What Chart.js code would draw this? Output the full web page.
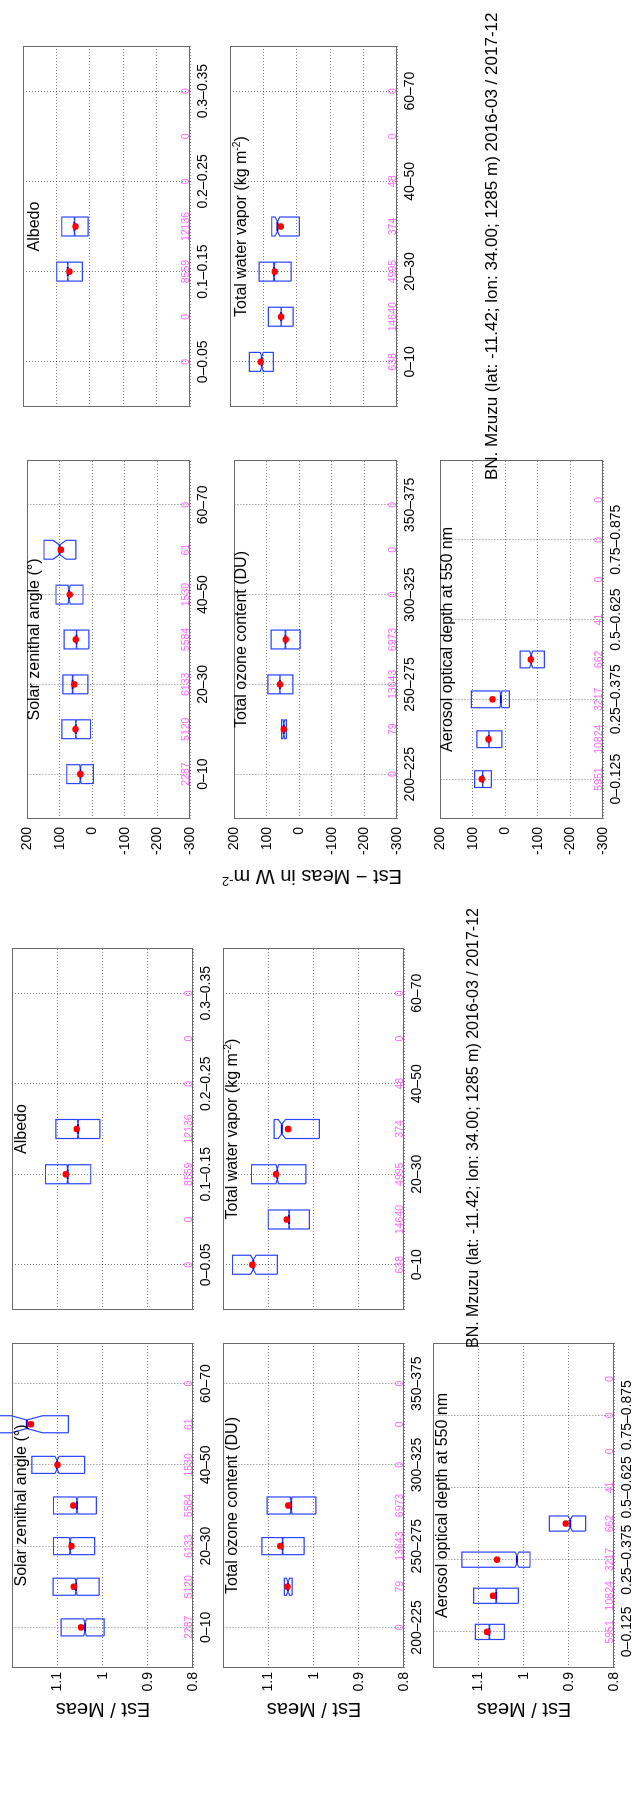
<!DOCTYPE html>
<html>
<head>
<meta charset="utf-8">
<script src="https://cdn.jsdelivr.net/npm/chart.js@4.4.1/dist/chart.umd.min.js"></script>
<style>
  html, body { margin: 0; padding: 0; background: #fff; }
  body { width: 639px; height: 1817px; overflow: hidden; position: relative; }
  #fig {
    position: absolute; left: 0; top: 0; width: 1817px; height: 639px;
    transform-origin: 0 0; transform: translate(0, 1817px) rotate(-90deg);
    font-family: 'Liberation Sans', Arial, sans-serif; color: #000;
  }
  #fig canvas { position: absolute; }
  .ttl { position: absolute; white-space: nowrap; font-size: 16px; line-height: 1; transform: translateX(-50%); }
  .sup { position: absolute; white-space: nowrap; line-height: 1; }
  .ylab { position: absolute; white-space: nowrap; font-size: 20px; line-height: 1; transform: translate(-50%, -50%) rotate(-90deg); }
  sup { font-size: 0.65em; vertical-align: 0.55em; line-height: 0; }
</style>
</head>
<body>
<div id="fig"></div>
<script>
'use strict';

// class labels on the x axes
var szaCats = ['0–10', '10–20', '20–30', '30–40', '40–50', '50–60', '60–70'];
var albCats = ['0–0.05', '0.05–0.1', '0.1–0.15', '0.15–0.2', '0.2–0.25', '0.25–0.3', '0.3–0.35'];
var ozCats = ['200–225', '225–250', '250–275', '275–300', '300–325', '325–350', '350–375'];
var wvCats = ['0–10', '10–20', '20–30', '30–40', '40–50', '50–60', '60–70'];
var aodCats = ['0–0.125', '0.125–0.25', '0.25–0.375', '0.375–0.5', '0.5–0.625', '0.625–0.75', '0.75–0.875', '0.875–1'];

// number of samples in each class (pink numbers)
var szaN = [2287, 5120, 6133, 5584, 1530, 61, 0];
var albN = [0, 0, 8559, 12136, 0, 0, 0];
var ozN = [0, 79, 13643, 6973, 0, 0, 0];
var wvN = [638, 14640, 4995, 374, 48, 0, 0];
var aodN = [5951, 10824, 3217, 662, 41, 0, 0, 0];

// value axes
var ratioTicks = [0.8, 0.9, 1, 1.1, 1.2];
var ratioTickLabels = ['0.8', '0.9', '1', '1.1', ''];
var diffTicks = [-300, -200, -100, 0, 100, 200];
var diffTickLabels = ['-300', '-200', '-100', '0', '100', '200'];

// Est / Meas per class: [q1, median, q3, mean]
var ratioSza = [[0.997, 1.039, 1.092, 1.048], [1.008, 1.059, 1.110, 1.064], [1.018, 1.072, 1.109, 1.069],
  [1.014, 1.057, 1.109, 1.065], [1.040, 1.101, 1.157, 1.100], [1.076, 1.168, 1.250, 1.159], null];
var ratioAlb = [null, null, [1.026, 1.077, 1.126, 1.081], [1.006, 1.054, 1.103, 1.057], null, null, null];
var ratioOz = [null, [1.048, 1.057, 1.065, 1.058], [1.021, 1.069, 1.115, 1.074], [0.995, 1.050, 1.103, 1.056], null, null, null];
var ratioWv = [[1.080, 1.133, 1.179, 1.135], [1.009, 1.054, 1.100, 1.059], [1.017, 1.080, 1.137, 1.083],
  [0.987, 1.070, 1.087, 1.056], null, null, null];
var ratioAod = [[1.043, 1.076, 1.107, 1.081], [1.012, 1.061, 1.111, 1.068], [0.986, 1.015, 1.137, 1.059],
  [0.863, 0.897, 0.943, 0.907], null, null, null, null];

// Est - Meas (W m-2) per class: [q1, median, q3, mean]
var diffSza = [[-3, 37, 79, 37], [6, 51, 94, 52], [14, 61, 91, 56], [11, 49, 87, 51], [29, 72, 112, 70], [51, 101, 149, 97], null];
var diffAlb = [null, null, [22, 66, 99, 61], [5, 46, 84, 43], null, null, null];
var diffOz = [null, [40, 48, 55, 48], [20, 60, 97, 60], [-2, 43, 87, 42], null, null, null];
var diffWv = [[70, 105, 142, 108], [11, 47, 85, 47], [17, 68, 113, 66], [-8, 58, 75, 48], null, null, null];
var diffAod = [[43, 70, 95, 73], [11, 51, 88, 52], [-12, 14, 105, 40], [-120, -79, -45, -78], null, null, null, null];

var siteTitle = 'BN. Mzuzu (lat: -11.42; lon: 34.00; 1285 m) 2016-03 / 2017-12';

var BOX_BLUE = '#2a44ff';
var MED_BLUE = '#0000ee';
var GRID = 'rgba(0,0,0,0.5)';
var FRAME = '#6a6a6a';
var PINK = '#ff66ff';
var ML = 55, MR = 12, MT = 12, MB = 32;
var BOX_HW = 0.21;

Chart.defaults.font.family = "'Liberation Sans', Arial, sans-serif";
Chart.defaults.color = '#000';

var fig = document.getElementById('fig');

var framePlugin = {
  id: 'frame',
  beforeDatasetsDraw: function (chart) {
    var a = chart.chartArea, ctx = chart.ctx;
    ctx.save();
    ctx.strokeStyle = FRAME;
    ctx.lineWidth = 1;
    ctx.strokeRect(Math.round(a.left) + 0.5, Math.round(a.top) + 0.5, Math.round(a.right - a.left) - 1, Math.round(a.bottom - a.top) - 1);
    ctx.restore();
  }
};

var countPlugin = {
  id: 'counts',
  afterDatasetsDraw: function (chart, args, opts) {
    var ctx = chart.ctx, xs = chart.scales.x, a = chart.chartArea;
    ctx.save();
    ctx.fillStyle = PINK;
    ctx.font = "10.5px 'Liberation Sans Narrow', 'Liberation Sans', sans-serif";
    ctx.textAlign = 'center';
    ctx.textBaseline = 'bottom';
    opts.values.forEach(function (v, i) {
      ctx.fillText(String(v), xs.getPixelForValue(i + 1), a.bottom + 1);
    });
    ctx.restore();
  }
};

function boxSets(stats, n) {
  var means = { data: [], showLine: false, pointRadius: 3.3, pointBackgroundColor: '#ff0000', pointBorderWidth: 0, clip: false };
  var sets = [means];
  stats.forEach(function (s, i) {
    if (!s) return;
    var x = i + 1, hw = BOX_HW, nw = BOX_HW / 2;
    var nt = 1.57 * (s[2] - s[0]) / Math.sqrt(n[i]);
    var lo = Math.max(s[0], s[1] - nt), hi = Math.min(s[2], s[1] + nt);
    means.data.push({ x: x, y: s[3] });
    sets.push({
      data: [{ x: x - nw, y: s[1] }, { x: x + nw, y: s[1] }],
      showLine: true, borderColor: MED_BLUE, borderWidth: 2, pointRadius: 0, clip: false
    });
    sets.push({
      data: [
        { x: x - hw, y: s[0] }, { x: x + hw, y: s[0] }, { x: x + hw, y: lo }, { x: x + nw, y: s[1] },
        { x: x + hw, y: hi }, { x: x + hw, y: s[2] }, { x: x - hw, y: s[2] }, { x: x - hw, y: hi },
        { x: x - nw, y: s[1] }, { x: x - hw, y: lo }, { x: x - hw, y: s[0] }
      ],
      showLine: true, borderColor: BOX_BLUE, borderWidth: 1.2, pointRadius: 0, tension: 0, clip: false
    });
  });
  return sets;
}

function addPanel(p) {
  var w = p.w + ML + MR, h = p.h + MT + MB;
  var cv = document.createElement('canvas');
  cv.width = w; cv.height = h;
  cv.style.left = (p.x - ML) + 'px';
  cv.style.top = (p.y - MT) + 'px';
  cv.style.width = w + 'px';
  cv.style.height = h + 'px';
  fig.appendChild(cv);

  var labelled = p.cats.map(function (c, i) { return i + 1; }).filter(function (v) { return v % 2 === 1; });

  new Chart(cv, {
    type: 'scatter',
    data: { datasets: boxSets(p.stats, p.n) },
    options: {
      responsive: false, animation: false, events: [], devicePixelRatio: 1,
      layout: { padding: { top: MT, right: MR, left: 0, bottom: 0 } },
      plugins: { legend: { display: false }, tooltip: { enabled: false }, counts: { values: p.n } },
      scales: {
        x: {
          type: 'linear', min: 0, max: p.cats.length + 1,
          afterFit: function (s) { s.height = MB; },
          afterBuildTicks: function (s) { s.ticks = labelled.map(function (v) { return { value: v }; }); },
          ticks: {
            autoSkip: false, maxRotation: 0, minRotation: 0, padding: 5, font: { size: 14 },
            callback: function (v) { return p.cats[v - 1]; }
          },
          grid: { drawTicks: false, color: GRID, lineWidth: 1 },
          border: { display: false, dash: [1, 2] }
        },
        y: {
          type: 'linear', min: p.ticks[0], max: p.ticks[p.ticks.length - 1],
          afterFit: function (s) { s.width = ML; },
          afterBuildTicks: function (s) { s.ticks = p.ticks.map(function (v) { return { value: v }; }); },
          ticks: {
            display: p.showY, padding: p.pad, font: { size: 14 },
            callback: function (v, i) { return p.tickLabels[i]; }
          },
          grid: { drawTicks: false, color: GRID, lineWidth: 1 },
          border: { display: false, dash: [1, 2] }
        }
      }
    },
    plugins: [framePlugin, countPlugin]
  });

  var t = document.createElement('div');
  t.className = 'ttl';
  t.innerHTML = p.title;
  t.style.left = (p.x + p.w / 2) + 'px';
  t.style.top = (p.y + p.tOff) + 'px';
  fig.appendChild(t);
}

function addText(cls, html, x, y, size) {
  var d = document.createElement('div');
  d.className = cls;
  d.innerHTML = html;
  d.style.left = x + 'px';
  d.style.top = y + 'px';
  if (size) d.style.fontSize = size + 'px';
  fig.appendChild(d);
}

// layout of the two groups (landscape coordinates, before the page rotation)
var groups = [
  { cols: [149, 507], widths: [325, 362], rows: [12, 223, 433], h: 181, ticks: ratioTicks, tickLabels: ratioTickLabels, pad: 4, tOff: 1,
    stats: [ratioSza, ratioAlb, ratioOz, ratioWv, ratioAod] },
  { cols: [998, 1410], widths: [359, 361], rows: [23, 230, 436], h: 167, ticks: diffTicks, tickLabels: diffTickLabels, pad: 8, tOff: 3,
    stats: [diffSza, diffAlb, diffOz, diffWv, diffAod] }
];
var cells = [
  { r: 0, c: 0, title: 'Solar zenithal angle (°)', cats: szaCats, n: szaN },
  { r: 0, c: 1, title: 'Albedo', cats: albCats, n: albN },
  { r: 1, c: 0, title: 'Total ozone content (DU)', cats: ozCats, n: ozN },
  { r: 1, c: 1, title: 'Total water vapor (kg m<sup>-2</sup>)', cats: wvCats, n: wvN },
  { r: 2, c: 0, title: 'Aerosol optical depth at 550 nm', cats: aodCats, n: aodN }
];

groups.forEach(function (g) {
  cells.forEach(function (c, k) {
    addPanel({
      x: g.cols[c.c], y: g.rows[c.r], w: g.widths[c.c], h: g.h,
      ticks: g.ticks, tickLabels: g.tickLabels, pad: g.pad, tOff: g.tOff, showY: c.c === 0,
      title: c.title, cats: c.cats, n: c.n, stats: g.stats[k]
    });
  });
});

// y labels
groups[0].rows.forEach(function (y) {
  addText('ylab', 'Est / Meas', 107, y + groups[0].h / 2);
});
addText('ylab', 'Est − Meas in W m<sup>-2</sup>', 940, 312);

// site titles
addText('sup', siteTitle, 469, 465, 16);
addText('sup', siteTitle, 1337, 483, 17);
</script>
</body>
</html>
